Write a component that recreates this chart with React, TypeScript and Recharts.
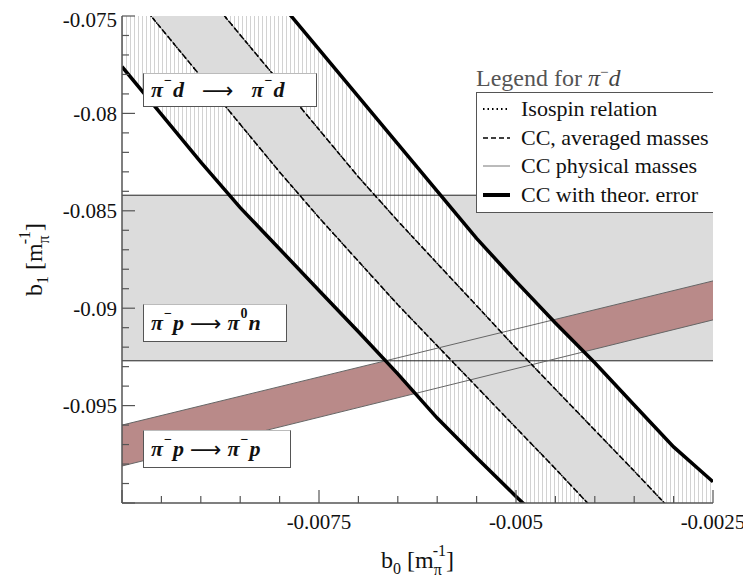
import React from "react";
import { ComposedChart, Area, Line, XAxis, YAxis, Legend, Label } from "recharts";

const bX = [-0.01, -0.0095, -0.009, -0.0085, -0.008, -0.0075, -0.007, -0.0065, -0.006, -0.0055, -0.005, -0.0045, -0.004, -0.0035, -0.003, -0.0025];
// pi-d: CC with theoretical error (outer thick lines)
const outerLeft = [-0.0776, -0.08005, -0.0825, -0.08484, -0.08696, -0.08909, -0.09121, -0.09337, -0.09564, -0.09768, -0.09966, -0.1016, -0.1036, -0.1056, -0.1076, -0.1096];
const outerRight = [-0.06459, -0.06701, -0.06944, -0.07186, -0.07429, -0.07671, -0.07914, -0.08156, -0.08399, -0.08642, -0.08862, -0.09076, -0.0928, -0.09497, -0.09712, -0.09891];
// pi-d: isospin / CC averaged / CC physical (inner lines)
const innerLeft = [-0.07319, -0.07565, -0.0781, -0.08056, -0.08301, -0.08535, -0.08759, -0.08982, -0.09193, -0.09403, -0.09614, -0.09824, -0.1004, -0.1025, -0.1046, -0.1067];
const innerRight = [-0.06868, -0.07111, -0.07354, -0.07597, -0.0784, -0.08083, -0.08326, -0.08552, -0.0877, -0.08987, -0.09205, -0.09416, -0.09626, -0.09836, -0.1005, -0.1026];

// pi- p -> pi0 n : horizontal band
const edgeX = [-0.01, -0.0025];
const cexLow = [-0.0927, -0.0927];
const cexHigh = [-0.0842, -0.0842];
// pi- p -> pi- p : sloped band
const elLow = [-0.0981, -0.0906];
const elHigh = [-0.096, -0.0886];

const xTicks = [-0.01, -0.0095, -0.009, -0.0085, -0.008, -0.0075, -0.007, -0.0065, -0.006, -0.0055, -0.005, -0.0045, -0.004, -0.0035, -0.003, -0.0025];
const xMajor = [-0.01, -0.0075, -0.005, -0.0025];
const xLabelled = [-0.0075, -0.005, -0.0025];
const yTicks = [-0.1, -0.099, -0.098, -0.097, -0.096, -0.095, -0.094, -0.093, -0.092, -0.091, -0.09, -0.089, -0.088, -0.087, -0.086, -0.085, -0.084, -0.083, -0.082, -0.081, -0.08, -0.079, -0.078, -0.077, -0.076, -0.075];
const yMajor = [-0.1, -0.095, -0.09, -0.085, -0.08, -0.075];
const yLabelled = [-0.095, -0.09, -0.085, -0.08, -0.075];

const legendNames = ["Isospin relation", "CC, averaged masses", "CC physical masses", "CC with theor. error"];

const SERIF = "'Liberation Serif', 'Times New Roman', 'DejaVu Serif', serif";
const FRAME = "#555";

const has = (list: number[], v: number) => list.some((m) => Math.abs(m - v) < 1e-9);

const outerBand = bX.map((x, i) => ({ x, r: [outerLeft[i], outerRight[i]] }));
const innerBand = bX.map((x, i) => ({ x, r: [innerLeft[i], innerRight[i]] }));
const cexBand = edgeX.map((x, i) => ({ x, r: [cexLow[i], cexHigh[i]] }));
const elBand = edgeX.map((x, i) => ({ x, r: [elLow[i], elHigh[i]] }));
const toLine = (xs: number[], ys: number[]) => xs.map((x, i) => ({ x, y: ys[i] }));

function BottomTick(props: any) {
  const { x, y, payload } = props;
  const major = has(xMajor, payload.value);
  return (
    <g>
      <line x1={x} x2={x} y1={y} y2={y - (major ? 13 : 7)} stroke={FRAME} strokeWidth={1.2} />
      {has(xLabelled, payload.value) && (
        <text x={x} y={y + 26} textAnchor="middle" fontFamily={SERIF} fontSize={21} fill="#111">
          {String(payload.value)}
        </text>
      )}
    </g>
  );
}

function TopTick(props: any) {
  const { x, y, payload } = props;
  const major = has(xMajor, payload.value);
  return <line x1={x} x2={x} y1={y} y2={y + (major ? 13 : 7)} stroke={FRAME} strokeWidth={1.2} />;
}

function LeftTick(props: any) {
  const { x, y, payload } = props;
  const major = has(yMajor, payload.value);
  // the topmost label sits a little lower, as in the original, so it stays inside the frame
  const shift = Math.abs(payload.value - -0.075) < 1e-9 ? 4 : 0;
  return (
    <g>
      <line x1={x} x2={x + (major ? 13 : 7)} y1={y} y2={y} stroke={FRAME} strokeWidth={1.2} />
      {has(yLabelled, payload.value) && (
        <text x={x - 5} y={y + shift} dy="0.35em" textAnchor="end" fontFamily={SERIF} fontSize={21} fill="#111">
          {String(payload.value)}
        </text>
      )}
    </g>
  );
}

function RightTick(props: any) {
  const { x, y, payload } = props;
  const major = has(yMajor, payload.value);
  return <line x1={x} x2={x - (major ? 13 : 7)} y1={y} y2={y} stroke={FRAME} strokeWidth={1.2} />;
}

function XTitle(props: any) {
  const vb = props.viewBox;
  const cx = vb.x + vb.width / 2;
  return (
    <text x={cx} y={vb.y + 65} textAnchor="middle" fontFamily={SERIF} fontSize={24} fill="#111">
      b<tspan fontSize={16} dy={6}>0</tspan>
      <tspan dy={-6}> [m</tspan>
      <tspan fontSize={16} dy={7}>π</tspan>
      <tspan fontSize={16} dx={-9} dy={-19}>-1</tspan>
      <tspan dy={12}>]</tspan>
    </text>
  );
}

function YTitle(props: any) {
  const vb = props.viewBox;
  const cy = vb.y + vb.height / 2;
  const cx = 34;
  return (
    <text x={cx} y={cy} transform={`rotate(-90 ${cx} ${cy})`} textAnchor="middle" fontFamily={SERIF} fontSize={24} fill="#111">
      b<tspan fontSize={16} dy={6}>1</tspan>
      <tspan dy={-6}> [m</tspan>
      <tspan fontSize={16} dy={7}>π</tspan>
      <tspan fontSize={16} dx={-9} dy={-19}>-1</tspan>
      <tspan dy={12}>]</tspan>
    </text>
  );
}

const legendStyles = [
  { stroke: "#000", width: 2, dash: "1.5 3" },
  { stroke: "#000", width: 1.6, dash: "5 3" },
  { stroke: "#777", width: 1, dash: undefined },
  { stroke: "#000", width: 4, dash: undefined },
];

function LegendBox() {
  return (
    <div style={{ fontFamily: SERIF }}>
      <div style={{ fontSize: 24, lineHeight: "28px", color: "#555", paddingLeft: 0 }}>
        Legend for <i style={{ color: "#444" }}>π</i>
        <sup style={{ fontSize: 15, color: "#444" }}>−</sup>
        <i style={{ color: "#444" }}>d</i>
      </div>
      <div style={{ border: `1.5px solid ${FRAME}`, borderRight: "none", background: "#fff", padding: "2px 0 3px 0" }}>
        {legendNames.map((name, i) => (
          <div key={name} style={{ display: "flex", alignItems: "center", height: 28.5 }}>
            <svg width={44} height={20} style={{ flex: "none" }}>
              <line x1={6} x2={33} y1={10} y2={10} stroke={legendStyles[i].stroke} strokeWidth={legendStyles[i].width} strokeDasharray={legendStyles[i].dash} />
            </svg>
            <span style={{ fontSize: 22, color: "#111", whiteSpace: "nowrap" }}>{name}</span>
          </div>
        ))}
      </div>
    </div>
  );
}

const boxStyle: React.CSSProperties = {
  position: "absolute",
  background: "#fff",
  border: "1px solid #555",
  borderTop: "1px solid #bbb",
  fontFamily: SERIF,
  fontStyle: "italic",
  fontWeight: "bold",
  fontSize: 22,
  color: "#111",
  display: "flex",
  alignItems: "center",
  boxSizing: "border-box",
  paddingLeft: 7,
  whiteSpace: "nowrap",
};
const supStyle: React.CSSProperties = { fontSize: 14, fontStyle: "normal", position: "relative", top: -9, marginLeft: 1, marginRight: 1 };
const arrowStyle = (gap: number): React.CSSProperties => ({
  fontStyle: "normal",
  fontWeight: "normal",
  fontFamily: "'DejaVu Sans', sans-serif",
  fontSize: 22,
  marginLeft: gap,
  marginRight: gap,
});

export default function App() {
  return (
    <div style={{ position: "relative", width: 743, height: 576 }}>
      <ComposedChart width={743} height={576} margin={{ top: 8, right: 38, bottom: 0, left: 0 }}>
        <defs>
          <pattern id="hatch" width="4" height="4" patternUnits="userSpaceOnUse">
            <rect width="4" height="4" fill="#fff" />
            <line x1="2.5" y1="0" x2="2.5" y2="4" stroke="#d2d2d2" strokeWidth="1" />
          </pattern>
        </defs>
        <XAxis
          type="number"
          dataKey="x"
          domain={[-0.01, -0.0025]}
          allowDataOverflow
          ticks={xTicks}
          interval={0}
          height={81}
          tickSize={0}
          tickMargin={0}
          tick={BottomTick}
          axisLine={{ stroke: FRAME, strokeWidth: 1.5 }}
        >
          <Label content={XTitle} />
        </XAxis>
        <XAxis
          xAxisId="top"
          orientation="top"
          type="number"
          dataKey="x"
          domain={[-0.01, -0.0025]}
          allowDataOverflow
          ticks={xTicks}
          interval={0}
          height={0}
          tickSize={0}
          tickMargin={0}
          tick={TopTick}
          axisLine={{ stroke: FRAME, strokeWidth: 1.5 }}
        />
        <YAxis
          type="number"
          domain={[-0.1, -0.075]}
          allowDataOverflow
          ticks={yTicks}
          interval={0}
          width={114}
          tickSize={0}
          tickMargin={0}
          tick={LeftTick}
          axisLine={{ stroke: FRAME, strokeWidth: 1.5 }}
        >
          <Label content={YTitle} />
        </YAxis>
        <YAxis
          yAxisId="right"
          orientation="right"
          type="number"
          domain={[-0.1, -0.075]}
          allowDataOverflow
          ticks={yTicks}
          interval={0}
          width={0}
          tickSize={0}
          tickMargin={0}
          tick={RightTick}
          axisLine={{ stroke: FRAME, strokeWidth: 1.5 }}
        />

        <Area data={cexBand} dataKey="r" type="linear" fill="#dcdcdc" fillOpacity={1} stroke="none" isAnimationActive={false} />
        <Area data={elBand} dataKey="r" type="linear" fill="#b98a89" fillOpacity={1} stroke="none" isAnimationActive={false} />
        <Area data={outerBand} dataKey="r" type="linear" fill="url(#hatch)" fillOpacity={1} stroke="none" isAnimationActive={false} />
        <Area data={innerBand} dataKey="r" type="linear" fill="#dcdcdc" fillOpacity={1} stroke="none" isAnimationActive={false} />

        <Line data={toLine(edgeX, cexHigh)} dataKey="y" stroke="#222" strokeWidth={1} dot={false} isAnimationActive={false} />
        <Line data={toLine(edgeX, cexLow)} dataKey="y" stroke="#222" strokeWidth={1} dot={false} isAnimationActive={false} />
        <Line data={toLine(edgeX, elHigh)} dataKey="y" stroke="#666" strokeWidth={1} dot={false} isAnimationActive={false} />
        <Line data={toLine(edgeX, elLow)} dataKey="y" stroke="#666" strokeWidth={1} dot={false} isAnimationActive={false} />

        <Line data={toLine(bX, innerLeft)} dataKey="y" stroke="#777" strokeWidth={1} dot={false} isAnimationActive={false} />
        <Line data={toLine(bX, innerRight)} dataKey="y" stroke="#777" strokeWidth={1} dot={false} isAnimationActive={false} />
        <Line data={toLine(bX, innerLeft)} dataKey="y" stroke="#000" strokeWidth={1.5} strokeDasharray="5 3" dot={false} isAnimationActive={false} />
        <Line data={toLine(bX, innerRight)} dataKey="y" stroke="#000" strokeWidth={1.5} strokeDasharray="5 3" dot={false} isAnimationActive={false} />
        <Line data={toLine(bX, innerLeft)} dataKey="y" stroke="#000" strokeWidth={1.5} strokeDasharray="1.5 3" dot={false} isAnimationActive={false} />
        <Line data={toLine(bX, innerRight)} dataKey="y" stroke="#000" strokeWidth={1.5} strokeDasharray="1.5 3" dot={false} isAnimationActive={false} />
        <Line data={toLine(bX, outerLeft)} dataKey="y" stroke="#000" strokeWidth={3.5} dot={false} isAnimationActive={false} />
        <Line data={toLine(bX, outerRight)} dataKey="y" stroke="#000" strokeWidth={3.5} dot={false} isAnimationActive={false} />

        <Legend
          layout="horizontal"
          verticalAlign="middle"
          align="center"
          content={LegendBox}
          wrapperStyle={{ left: 468, top: 50, width: 237, height: "auto" }}
        />
      </ComposedChart>

      <div style={{ ...boxStyle, left: 135, top: 65, width: 174, height: 34 }}>
        π<span style={supStyle}>−</span>d<span style={arrowStyle(18)}>⟶</span>π<span style={supStyle}>−</span>d
      </div>
      <div style={{ ...boxStyle, left: 135, top: 296, width: 144, height: 38 }}>
        π<span style={supStyle}>−</span>p<span style={arrowStyle(6)}>⟶</span>π<span style={supStyle}>0</span>n
      </div>
      <div style={{ ...boxStyle, left: 135, top: 422, width: 148, height: 38 }}>
        π<span style={supStyle}>−</span>p<span style={arrowStyle(6)}>⟶</span>π<span style={supStyle}>−</span>p
      </div>
    </div>
  );
}
